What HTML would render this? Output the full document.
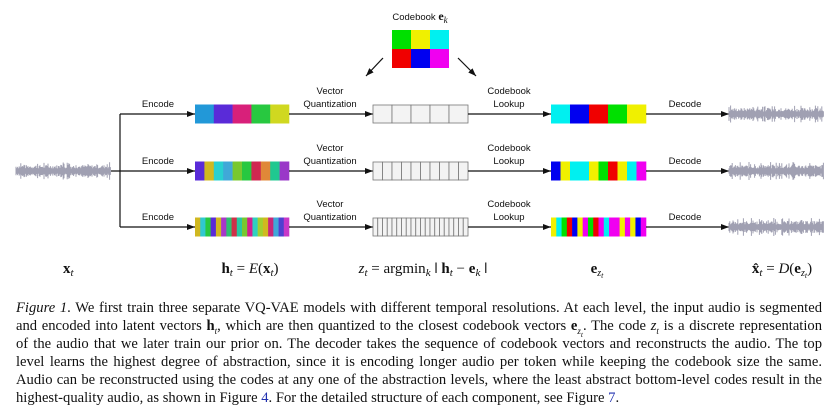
<!DOCTYPE html>
<html><head><meta charset="utf-8"><style>
body{margin:0;background:#fff;width:837px;height:411px;overflow:hidden;position:relative}
svg{position:absolute;left:0;top:0}
.cap{position:absolute;left:16px;width:806px;font:14.6px "Liberation Serif",serif;color:#111;text-align:justify;text-align-last:justify;white-space:nowrap;line-height:18px}
.lb{font:9.5px "Liberation Sans",sans-serif;fill:#111}
.m{font-family:"Liberation Serif",serif;font-size:15px;fill:#111}
</style></head><body>
<svg id="s" width="837" height="290" xmlns="http://www.w3.org/2000/svg">
<defs><marker id="a" markerWidth="8" markerHeight="6" refX="8" refY="3" orient="auto" markerUnits="userSpaceOnUse"><path d="M0,0L8,3L0,6z" fill="#111"/></marker></defs>
<text x="420" y="20" text-anchor="middle" class="lb" style="font-size:9.5px">Codebook <tspan style="font:bold 12px 'Liberation Serif',serif">e</tspan><tspan style="font:italic 9px 'Liberation Serif',serif" dy="3">k</tspan></text>
<rect x="392" y="30" width="19" height="19" fill="#00e000"/><rect x="411" y="30" width="19" height="19" fill="#f0f000"/><rect x="430" y="30" width="19" height="19" fill="#00f0f0"/>
<rect x="392" y="49" width="19" height="19" fill="#f00000"/><rect x="411" y="49" width="19" height="19" fill="#0000f0"/><rect x="430" y="49" width="19" height="19" fill="#f000f0"/>
<line x1="383" y1="58" x2="366" y2="76" stroke="#111" stroke-width="1.2" marker-end="url(#a)"/>
<line x1="458" y1="58" x2="476" y2="76" stroke="#111" stroke-width="1.2" marker-end="url(#a)"/>
<path d="M111,171H120M120,114V227" stroke="#111" stroke-width="1.2" fill="none"/>
<g id="rows"></g>
<text x="63" y="273" class="m" style="font-weight:bold">x<tspan style="font-style:italic;font-weight:normal;font-size:11px" dy="3">t</tspan></text>
<text x="250" y="273" text-anchor="middle" class="m"><tspan style="font-weight:bold">h</tspan><tspan style="font-style:italic;font-size:11px" dy="3">t</tspan><tspan dy="-3"> = </tspan><tspan style="font-style:italic">E</tspan>(<tspan style="font-weight:bold">x</tspan><tspan style="font-style:italic;font-size:11px" dy="3">t</tspan><tspan dy="-3">)</tspan></text>
<text x="423" y="273" text-anchor="middle" class="m"><tspan style="font-style:italic">z</tspan><tspan style="font-style:italic;font-size:11px" dy="3">t</tspan><tspan dy="-3"> = argmin</tspan><tspan style="font-style:italic;font-size:11px" dy="3">k</tspan><tspan dy="-3" style="font-weight:bold"> ǀ h</tspan><tspan style="font-style:italic;font-size:11px" dy="3">t</tspan><tspan dy="-3"> − </tspan><tspan style="font-weight:bold">e</tspan><tspan style="font-style:italic;font-size:11px" dy="3">k</tspan><tspan dy="-3" style="font-weight:bold"> ǀ</tspan></text>
<text x="597" y="273" text-anchor="middle" class="m"><tspan style="font-weight:bold">e</tspan><tspan style="font-style:italic;font-size:10px" dy="3">z</tspan><tspan style="font-style:italic;font-size:8px" dy="2">t</tspan></text>
<text x="782" y="273" text-anchor="middle" class="m"><tspan style="font-weight:bold">x̂</tspan><tspan style="font-style:italic;font-size:11px" dy="3">t</tspan><tspan dy="-3"> = </tspan><tspan style="font-style:italic">D</tspan>(<tspan style="font-weight:bold">e</tspan><tspan style="font-style:italic;font-size:10px" dy="3">z</tspan><tspan style="font-style:italic;font-size:8px" dy="2">t</tspan><tspan dy="-5">)</tspan></text>
</svg>
<div class="cap" style="top:299px"><i>Figure 1</i>. We first train three separate VQ-VAE models with different temporal resolutions. At each level, the input audio is segmented</div>
<div class="cap" style="top:317px">and encoded into latent vectors <b>h</b><sub style="font-size:9px"><i>t</i></sub>, which are then quantized to the closest codebook vectors <b>e</b><sub style="font-size:9px"><i>z<sub>t</sub></i></sub>. The code <i>z<sub style="font-size:9px">t</sub></i> is a discrete representation</div>
<div class="cap" style="top:335px">of the audio that we later train our prior on. The decoder takes the sequence of codebook vectors and reconstructs the audio. The top</div>
<div class="cap" style="top:353px">level learns the highest degree of abstraction, since it is encoding longer audio per token while keeping the codebook size the same.</div>
<div class="cap" style="top:371px">Audio can be reconstructed using the codes at any one of the abstraction levels, where the least abstract bottom-level codes result in the</div>
<div class="cap" style="top:389px;text-align-last:left">highest-quality audio, as shown in Figure <span style="color:#2030b0">4</span>. For the detailed structure of each component, see Figure <span style="color:#2030b0">7</span>.</div>
<script>
var g=document.getElementById("rows"),h="";
function R(x,y,w,hh,f,s){h+='<rect x="'+x+'" y="'+y+'" width="'+w+'" height="'+hh+'" fill="'+f+'"'+(s?' stroke="#777" stroke-width="0.8"':'')+'/>';}
function L(x1,x2,y){h+='<line x1="'+x1+'" y1="'+y+'" x2="'+x2+'" y2="'+y+'" stroke="#111" stroke-width="1.2" marker-end="url(#a)"/>';}
function T(x,y,t){h+='<text x="'+x+'" y="'+y+'" text-anchor="middle" class="lb">'+t+'</text>';}
var seed=7;function rnd(){seed=(seed*9301+49297)%233280;return seed/233280;}
function wave(x0,x1,y){var d="";for(var x=x0;x<=x1;x+=0.8){var a=2.5+rnd()*3.5+(rnd()<0.15?3:0);d+="M"+x.toFixed(1)+","+(y-a).toFixed(1)+"V"+(y+a).toFixed(1);}h+='<path d="'+d+'" stroke="#a0a0b2" stroke-width="1"/>';}
var H=[["#2298d8","#5a2bd8","#d8207a","#28c840","#d0d820"],
["#5a2bd8","#d0b820","#28d0d0","#40a8d8","#78c830","#28c840","#d02850","#e08838","#20c890","#9a38c8"],
["#d0b820","#30c8d0","#28c840","#5a2bd8","#d0b820","#a838c8","#30c070","#d03048","#28c8a0","#78c830","#d02090","#30d0c0","#a0d030","#d0b820","#c82878","#40a8d8","#5040d0","#c838c8"]];
var E=[["#00f0f0","#0000f0","#f00000","#00e000","#f0f000"],
["#0000f0","#f0f000","#00f0f0","#00f0f0","#f0f000","#00e000","#f00000","#f0f000","#00f0f0","#f000f0"],
["#f0f000","#00f0f0","#00e000","#f00000","#0000f0","#f0f000","#f000f0","#00e000","#f00000","#f000f0","#00f0f0","#f000f0","#f000f0","#f0f000","#f000f0","#f0f000","#0000f0","#f000f0"]];
var ys=[114,171,227],n=[5,10,20];
wave(16,111,171);
for(var r=0;r<3;r++){var y=ys[r];
L(120,195,y);T(158,y-7,"Encode");
var c=H[r],w=94/c.length;for(var i=0;i<c.length;i++)R(195+i*w,y-9.5,w+0.3,19,c[i]);
L(289,373,y);T(330,y-20,"Vector");T(330,y-7,"Quantization");
var k=n[r],cw=95/k;for(var i=0;i<k;i++)R(373+i*cw,y-9,cw,18,"#f3f3f3",1);
L(468,551,y);T(509,y-20,"Codebook");T(509,y-7,"Lookup");
c=E[r];w=95/c.length;for(var i=0;i<c.length;i++)R(551+i*w,y-9.5,w+0.3,19,c[i]);
L(646,729,y);T(685,y-7,"Decode");
wave(729,824,y);}
g.innerHTML=h;
document.getElementById("s").innerHTML=document.getElementById("s").innerHTML;
</script>
</body></html>
